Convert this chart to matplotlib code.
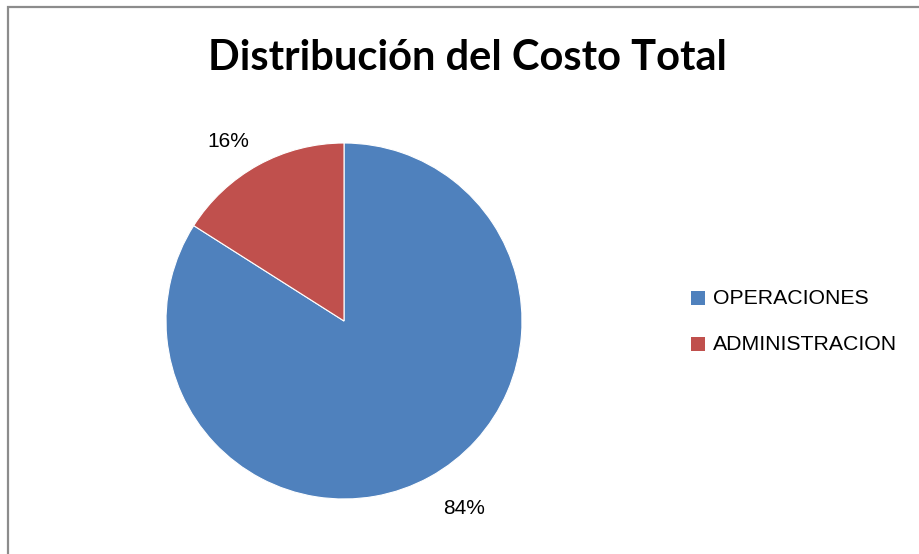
import numpy as np
import matplotlib.pyplot as plt
from matplotlib.patches import Rectangle

categorias = ["OPERACIONES", "ADMINISTRACION"]
valores = [84, 16]
colores = ["#4F81BD", "#C0504D"]
titulo = "Distribución del Costo Total"

W, H = 920, 554
fig = plt.figure(figsize=(W / 100, H / 100), dpi=100)
fig.patch.set_facecolor("white")

# marco del grafico (cortado a la derecha y abajo)
fig.patches.append(Rectangle((8 / W, -0.05), 1.2, (H - 7) / H + 0.05,
                             transform=fig.transFigure, fill=False,
                             edgecolor="#8c8c8c", lw=1.6))

# pie: centro (344, 321), radio 178 px
cx, cy, r = 344, 321, 178
ax = fig.add_axes([(cx - r) / W, (H - cy - r) / H, 2 * r / W, 2 * r / H])
wedges, textos, autotextos = ax.pie(
    valores, colors=colores, startangle=90, counterclock=False,
    autopct=lambda p: f"{p:.0f}%", pctdistance=1.22, radius=1,
    wedgeprops=dict(edgecolor="white", linewidth=0.8),
    textprops=dict(fontsize=15, family="Liberation Sans", color="black"))
# etiquetas un poco giradas como en Excel
for w, t, d in zip(wedges, autotextos, [1.25, 1.2]):
    ang = np.deg2rad((w.theta1 + w.theta2) / 2 + 4)
    t.set_position((d * np.cos(ang), d * np.sin(ang)))
ax.set_xlim(-1, 1)
ax.set_ylim(-1, 1)
ax.set_aspect("equal")
ax.axis("off")

fig.text(467 / W, 1 - 58 / H, titulo, ha="center", va="center",
         fontsize=30, fontweight="bold", family="Lato")

# leyenda
for i, (cat, col) in enumerate(zip(categorias, colores)):
    y = 298 + i * 46
    fig.patches.append(Rectangle((691 / W, 1 - (y + 7) / H), 14 / W, 14 / H,
                                 transform=fig.transFigure, facecolor=col,
                                 edgecolor="none"))
    fig.text(713 / W, 1 - y / H, cat, ha="left", va="center",
             fontsize=15.3, family="Liberation Sans")

fig.savefig("out.png", dpi=100)
